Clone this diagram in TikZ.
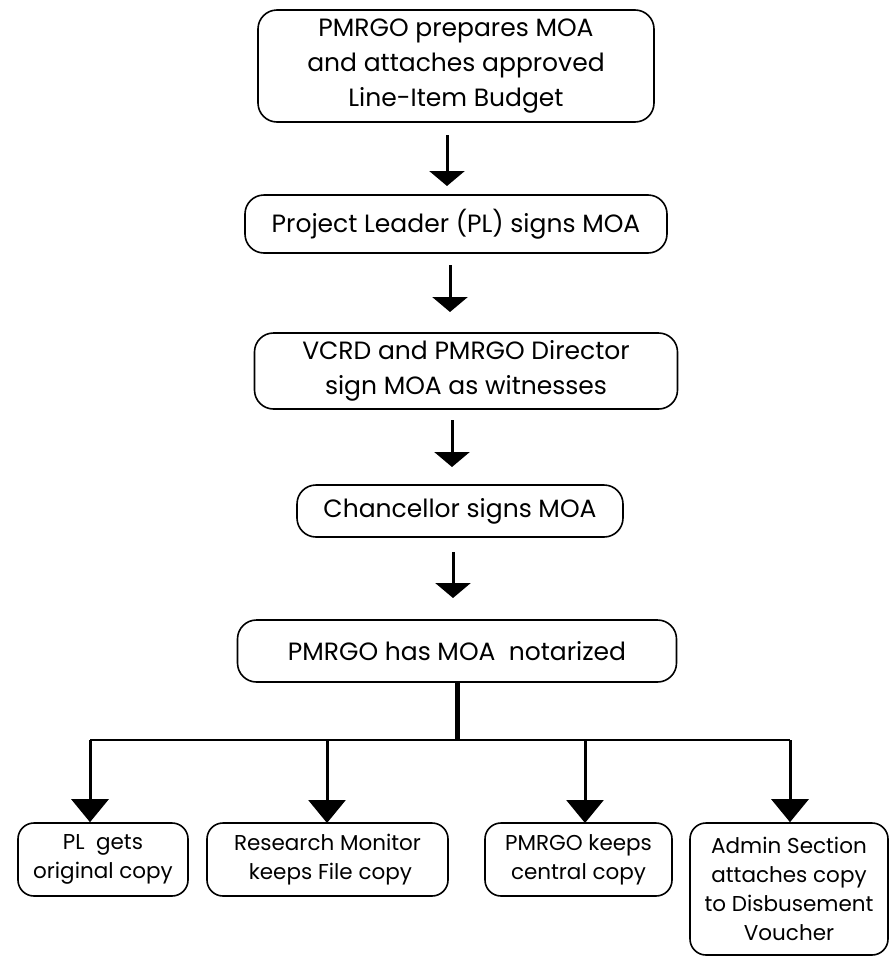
\documentclass[tikz,border=0pt]{standalone}
\usepackage{fontspec}
\setmainfont{Poppins}
\usetikzlibrary{arrows.meta}
\tikzset{
  box/.style={draw, line width=1.6pt, rounded corners=19pt, align=center, inner sep=0pt,
    font=\fontsize{25}{35}\selectfont},
  smallbox/.style={box, rounded corners=16pt, font=\fontsize{21.5}{29}\selectfont},
  flow/.style={line width=3pt, -{Triangle[width=35pt,length=15pt]}},
  branch/.style={line width=3pt, -{Triangle[width=37pt,length=23pt]}},
  bus/.style={line width=2.4pt}
}
\begin{document}
\begin{tikzpicture}[x=1pt,y=-1pt]
\useasboundingbox (0,0) rectangle (890,956);
\node[box, minimum width=396pt, minimum height=112pt] (b1) at (456,66)
  {PMRGO prepares MOA\\and attaches approved\\Line-Item Budget};
\node[box, minimum width=422pt, minimum height=58pt] (b2) at (456,224)
  {Project Leader (PL) signs MOA};
\node[box, minimum width=423pt, minimum height=76pt] (b3) at (466,371)
  {VCRD and PMRGO Director\\sign MOA as witnesses};
\node[box, minimum width=326pt, minimum height=52pt] (b4) at (460,511)
  {Chancellor signs MOA};
\node[box, minimum width=439pt, minimum height=62pt] (b5) at (457,651)
  {PMRGO has MOA\ \ notarized};
\node[smallbox, minimum width=170pt, minimum height=73pt] (c1) at (103,859.5)
  {PL\ \ gets\\original copy};
\node[smallbox, minimum width=241pt, minimum height=73pt] (c2) at (327.5,859.5)
  {Research Monitor\\\ keeps File copy};
\node[smallbox, minimum width=187pt, minimum height=73pt] (c3) at (578.5,859.5)
  {PMRGO keeps\\central copy};
\node[smallbox, minimum width=198pt, minimum height=132pt] (c4) at (789,889)
  {Admin Section\\attaches copy\\to Disbusement\\Voucher};
\coordinate (j) at (457,740);
\coordinate (l) at (90,740);
\coordinate (r) at (790,740);
\draw[flow] (447,135) -- (447,186);
\draw[flow] (450,265) -- (450,312);
\draw[flow] (452,420) -- (452,467);
\draw[flow] (453,552) -- (453,598);
\draw[line width=5pt] (b5.south -| j) -- (j);
\draw[bus] (l) -- (r);
\draw[branch] (l) -- (l |- c1.north);
\draw[branch] (327,740) -- (327,823);
\draw[branch] (585,740) -- (585,823);
\draw[branch] (r) -- (r |- c4.north);
\end{tikzpicture}
\end{document}
